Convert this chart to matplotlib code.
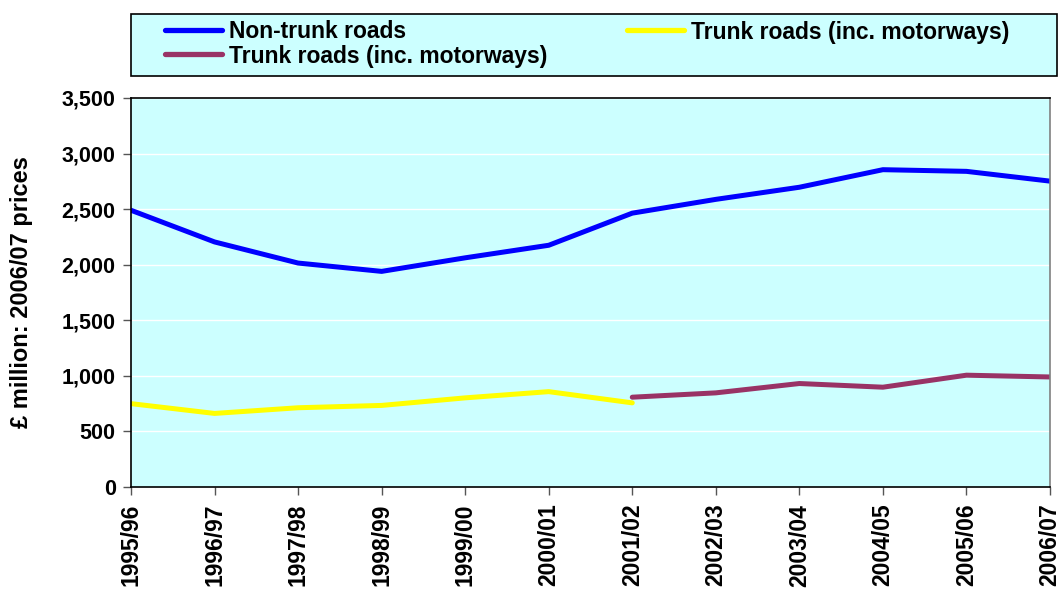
import matplotlib
matplotlib.use("Agg")
import matplotlib.pyplot as plt
from matplotlib.ticker import FuncFormatter
from matplotlib.patches import Rectangle

years = ["1995/96", "1996/97", "1997/98", "1998/99", "1999/00", "2000/01",
         "2001/02", "2002/03", "2003/04", "2004/05", "2005/06", "2006/07"]
non_trunk = [2490, 2205, 2015, 1940, 2062, 2175, 2464, 2588, 2697, 2855, 2840, 2752]
trunk_old = [750, 662, 713, 734, 802, 858, 757]
trunk_new = [808, 847, 931, 898, 1006, 990]
series_labels = ["Non-trunk roads", "Trunk roads (inc. motorways)", "Trunk roads (inc. motorways)"]

plt.rcParams['font.family'] = ['Liberation Sans', 'DejaVu Sans']
plt.rcParams['font.weight'] = 'bold'

W, H = 1058, 595
fig = plt.figure(figsize=(W/100, H/100), dpi=100)
ax = fig.add_axes([131/W, 1-487/H, (1050-131)/W, (487-98)/H])
ax.set_facecolor('#CCFFFF')

x_all = list(range(len(years)))
l1, = ax.plot(x_all, non_trunk, color='#0000FF', lw=3.6, label=series_labels[0], solid_capstyle='round')
l2, = ax.plot(x_all[:len(trunk_old)], trunk_old, color='#FFFF00', lw=3.6, label=series_labels[1], solid_capstyle='round')
l3, = ax.plot(x_all[len(years)-len(trunk_new):], trunk_new, color='#993366', lw=3.6, label=series_labels[2], solid_capstyle='round')

ax.set_xlim(0, len(years)-1)
ax.set_ylim(0, 3500)
ax.set_yticks(range(0, 3501, 500))
ax.yaxis.set_major_formatter(FuncFormatter(lambda v, p: f"{int(v):,}"))
ax.set_xticks(x_all)
ax.set_xticklabels(years, rotation=90, fontsize=16.5, fontweight='bold', va='top')
for lab in ax.get_yticklabels():
    lab.set_fontsize(15.5)
    lab.set_fontweight('bold')
ax.tick_params(axis='both', direction='out', length=6, width=1, color='#555555')
ax.tick_params(axis='x', pad=6)
ax.tick_params(axis='y', pad=5)
ax.grid(axis='y', color='white', lw=1)
ax.set_axisbelow(True)
for s in ['left', 'bottom', 'top']:
    ax.spines[s].set_color('black')
    ax.spines[s].set_linewidth(1.2)
ax.spines['right'].set_color('#808080')
ax.spines['right'].set_linewidth(1.2)

fig.text(22/W, 1-292/H, '£ million: 2006/07 prices', rotation=90, ha='center', va='center',
         fontsize=17, fontweight='bold')

# legend box
fig.patches.append(Rectangle((131/W, 1-76/H), (1057-131)/W, (76-14)/H, transform=fig.transFigure,
                             facecolor='#CCFFFF', edgecolor='black', lw=1.2, zorder=0))

def add_leg(handle, label, x, y):
    lg = fig.legend([handle], [label], loc='center left', bbox_to_anchor=(x/W, 1-y/H),
                    frameon=False, fontsize=16.5, handlelength=2.5, handletextpad=0.28,
                    borderpad=0, borderaxespad=0)
    for t in lg.get_texts():
        t.set_fontweight('bold')
    for ln in lg.get_lines():
        ln.set_linewidth(3.8)
    return lg

add_leg(l1, series_labels[0], 165, 32)
add_leg(l2, series_labels[1], 627, 32)
add_leg(l3, series_labels[2], 165, 56)

fig.savefig('out.png', dpi=100)
